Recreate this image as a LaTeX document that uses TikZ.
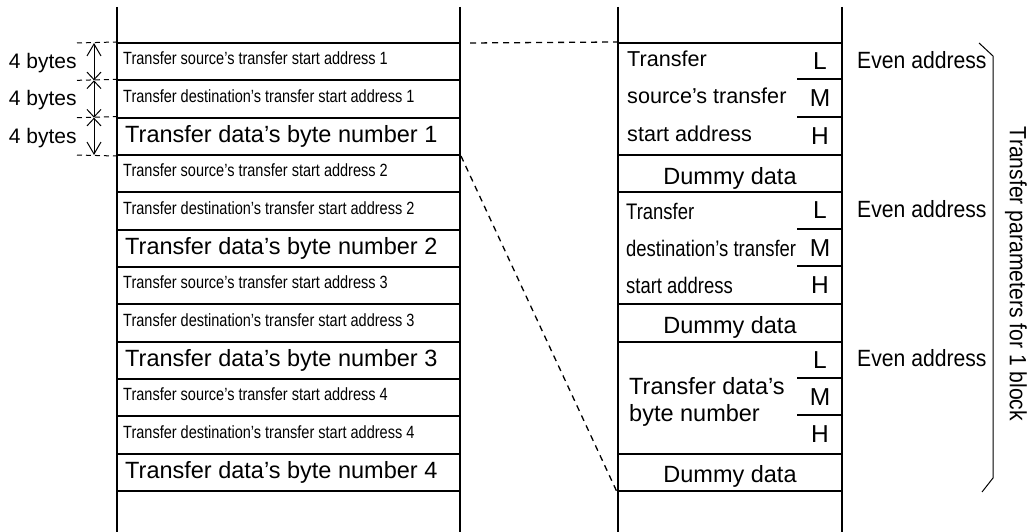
\documentclass[tikz,border=0pt]{standalone}
\usepackage{fontspec}
\setmainfont{Liberation Sans}
\newfontfamily\narrowf[FakeStretch=0.82]{Liberation Sans}
\newfontfamily\evenf[FakeStretch=0.9]{Liberation Sans}
\usetikzlibrary{arrows.meta}
\begin{document}
\begin{tikzpicture}[x=1pt,y=-1pt,
  boxline/.style={line width=2pt},
  cell/.style={draw, line width=2pt, inner sep=0pt, minimum height=37.333pt},
  leftcell/.style={cell, minimum width=343pt},
  rcell/.style={cell, minimum width=224pt},
  rblock/.style={cell, minimum width=224pt, minimum height=112pt},
  smalltxt/.style={anchor=base west, inner sep=0pt, font=\narrowf\fontsize{17.7}{20}\selectfont},
  bigtxt/.style={anchor=base west, inner sep=0pt, font=\fontsize{23.5}{26}\selectfont},
  midtxt/.style={anchor=base west, inner sep=0pt, font=\fontsize{21.6}{24}\selectfont},
  condtxt/.style={anchor=base west, inner sep=0pt, font=\narrowf\fontsize{22.5}{26}\selectfont},
  lmh/.style={inner sep=0pt, font=\fontsize{24.5}{26}\selectfont},
  eventxt/.style={anchor=base west, inner sep=0pt, font=\evenf\fontsize{23.5}{26}\selectfont},
  bytetxt/.style={anchor=base, inner sep=0pt, font=\fontsize{21}{24}\selectfont},
  sepline/.style={line width=2pt},
  extline/.style={line width=1pt, dash pattern=on 5pt off 4pt},
  linkline/.style={line width=1.3pt, dash pattern=on 6pt off 5pt},
  bracket/.style={line width=1pt},
  dimfirst/.style={line width=1pt, {Straight Barb[length=12pt,width=14pt]}-{Straight Barb[length=7.5pt,width=14pt]}},
  dimmid/.style={line width=1pt, {Straight Barb[length=7.5pt,width=14pt]}-{Straight Barb[length=7.5pt,width=14pt]}},
  dimlast/.style={line width=1pt, {Straight Barb[length=7.5pt,width=14pt]}-{Straight Barb[length=12pt,width=14pt]}}
]
\useasboundingbox (0,0) rectangle (1032,532);

% left column cells
\foreach \i in {1,...,12}{
  \node[leftcell] (c\i) at (288.5, {43+37.333*(\i-0.5)}) {};
}
\foreach \k in {1,2,3,4}{
  \pgfmathtruncatemacro\ia{3*\k-2}
  \pgfmathtruncatemacro\ib{3*\k-1}
  \pgfmathtruncatemacro\ic{3*\k}
  \node[smalltxt] (ts\k) at ([xshift=7pt,yshift=-3.3pt]c\ia.west) {Transfer source’s transfer start address \k};
  \node[smalltxt] (td\k) at ([xshift=7pt,yshift=-3.3pt]c\ib.west) {Transfer destination’s transfer start address \k};
  \node[bigtxt] (tb\k) at ([xshift=9pt,yshift=-6.5pt]c\ic.west) {Transfer data’s byte number \k};
}

% column lines
\draw[boxline] (117,7) -- (117,532);
\draw[boxline] (460,7) -- (460,532);
\draw[boxline] (618,7) -- (618,532);
\draw[boxline] (842,7) -- (842,532);

% right column
\node[rblock] (b1) at (730,99) {};
\node[rcell] (m1) at (730,173.667) {};
\node[rblock] (b2) at (730,248.333) {};
\node[rcell] (m2) at (730,323) {};
\node[rblock] (b3) at (730,397.667) {};
\node[rcell] (m3) at (730,472.333) {};

\foreach \b in {b1,b2,b3}{
  \draw[sepline] ([yshift=-37.333pt]\b.north east) -- ++(-46,0);
  \draw[sepline] ([yshift=-74.667pt]\b.north east) -- ++(-46,0);
  \node[lmh] (\b L) at ([xshift=-23pt,yshift=-19.2pt]\b.north east) {L};
  \node[lmh] (\b M) at ([xshift=-23pt,yshift=-56.5pt]\b.north east) {M};
  \node[lmh] (\b H) at ([xshift=-23pt,yshift=-93.8pt]\b.north east) {H};
  \node[eventxt] (\b E) at ([xshift=14pt,yshift=-26.3pt]\b.north east) {Even address};
}
\foreach \m in {m1,m2,m3}{
  \node[bigtxt, anchor=base] (\m T) at ([yshift=-10.4pt]\m.center) {Dummy data};
}

\node[midtxt] (s1a) at ([xshift=10pt,yshift=-24.67pt]b1.north west) {Transfer};
\node[midtxt] (s1b) at ([xshift=10pt,yshift=-62pt]b1.north west) {source’s transfer};
\node[midtxt] (s1c) at ([xshift=10pt,yshift=-99.33pt]b1.north west) {start address};

\node[condtxt] (s2a) at ([xshift=9pt,yshift=-27.67pt]b2.north west) {Transfer};
\node[condtxt] (s2b) at ([xshift=9pt,yshift=-65pt]b2.north west) {destination’s transfer};
\node[condtxt] (s2c) at ([xshift=9pt,yshift=-102.33pt]b2.north west) {start address};

\node[bigtxt] (s3a) at ([xshift=12pt,yshift=-54.2pt]b3.north west) {Transfer data’s};
\node[bigtxt] (s3b) at ([xshift=12pt,yshift=-80.7pt]b3.north west) {byte number};

% bracket and rotated label
\coordinate (k1) at (979,43);
\coordinate (k2) at (993,56);
\coordinate (k3) at (993,478);
\coordinate (k4) at (982,492);
\draw[bracket] (k1) -- (k2) -- (k3) -- (k4);
\node[rotate=-90, inner sep=0pt, font=\evenf\fontsize{23.5}{26}\selectfont] (tp) at (1016,274) {Transfer parameters for 1 block};

% dimensions
\coordinate (d0) at (94,43);
\coordinate (d1) at (94,80.333);
\coordinate (d2) at (94,117.667);
\coordinate (d3) at (94,155);
\coordinate (x0) at (77,43);
\coordinate (x1) at (77,80.333);
\coordinate (x2) at (77,117.667);
\coordinate (x3) at (77,155);
\draw[extline] (x0) -- (c1.north west);
\draw[extline] (x1) -- (c2.north west);
\draw[extline] (x2) -- (c3.north west);
\draw[extline] (x3) -- (c3.south west);
\draw[dimfirst] (d0) -- (d1);
\draw[dimmid] (d1) -- (d2);
\draw[dimlast] (d2) -- (d3);
\node[bytetxt] (y1) at (42.7,68.67) {4 bytes};
\node[bytetxt] (y2) at (42.7,106) {4 bytes};
\node[bytetxt] (y3) at (42.7,143.33) {4 bytes};

% links
\coordinate (h0) at (470,43);
\draw[linkline] (h0) -- (b1.north west);
\draw[linkline] (c3.south east) -- (m3.south west);
\end{tikzpicture}
\end{document}
